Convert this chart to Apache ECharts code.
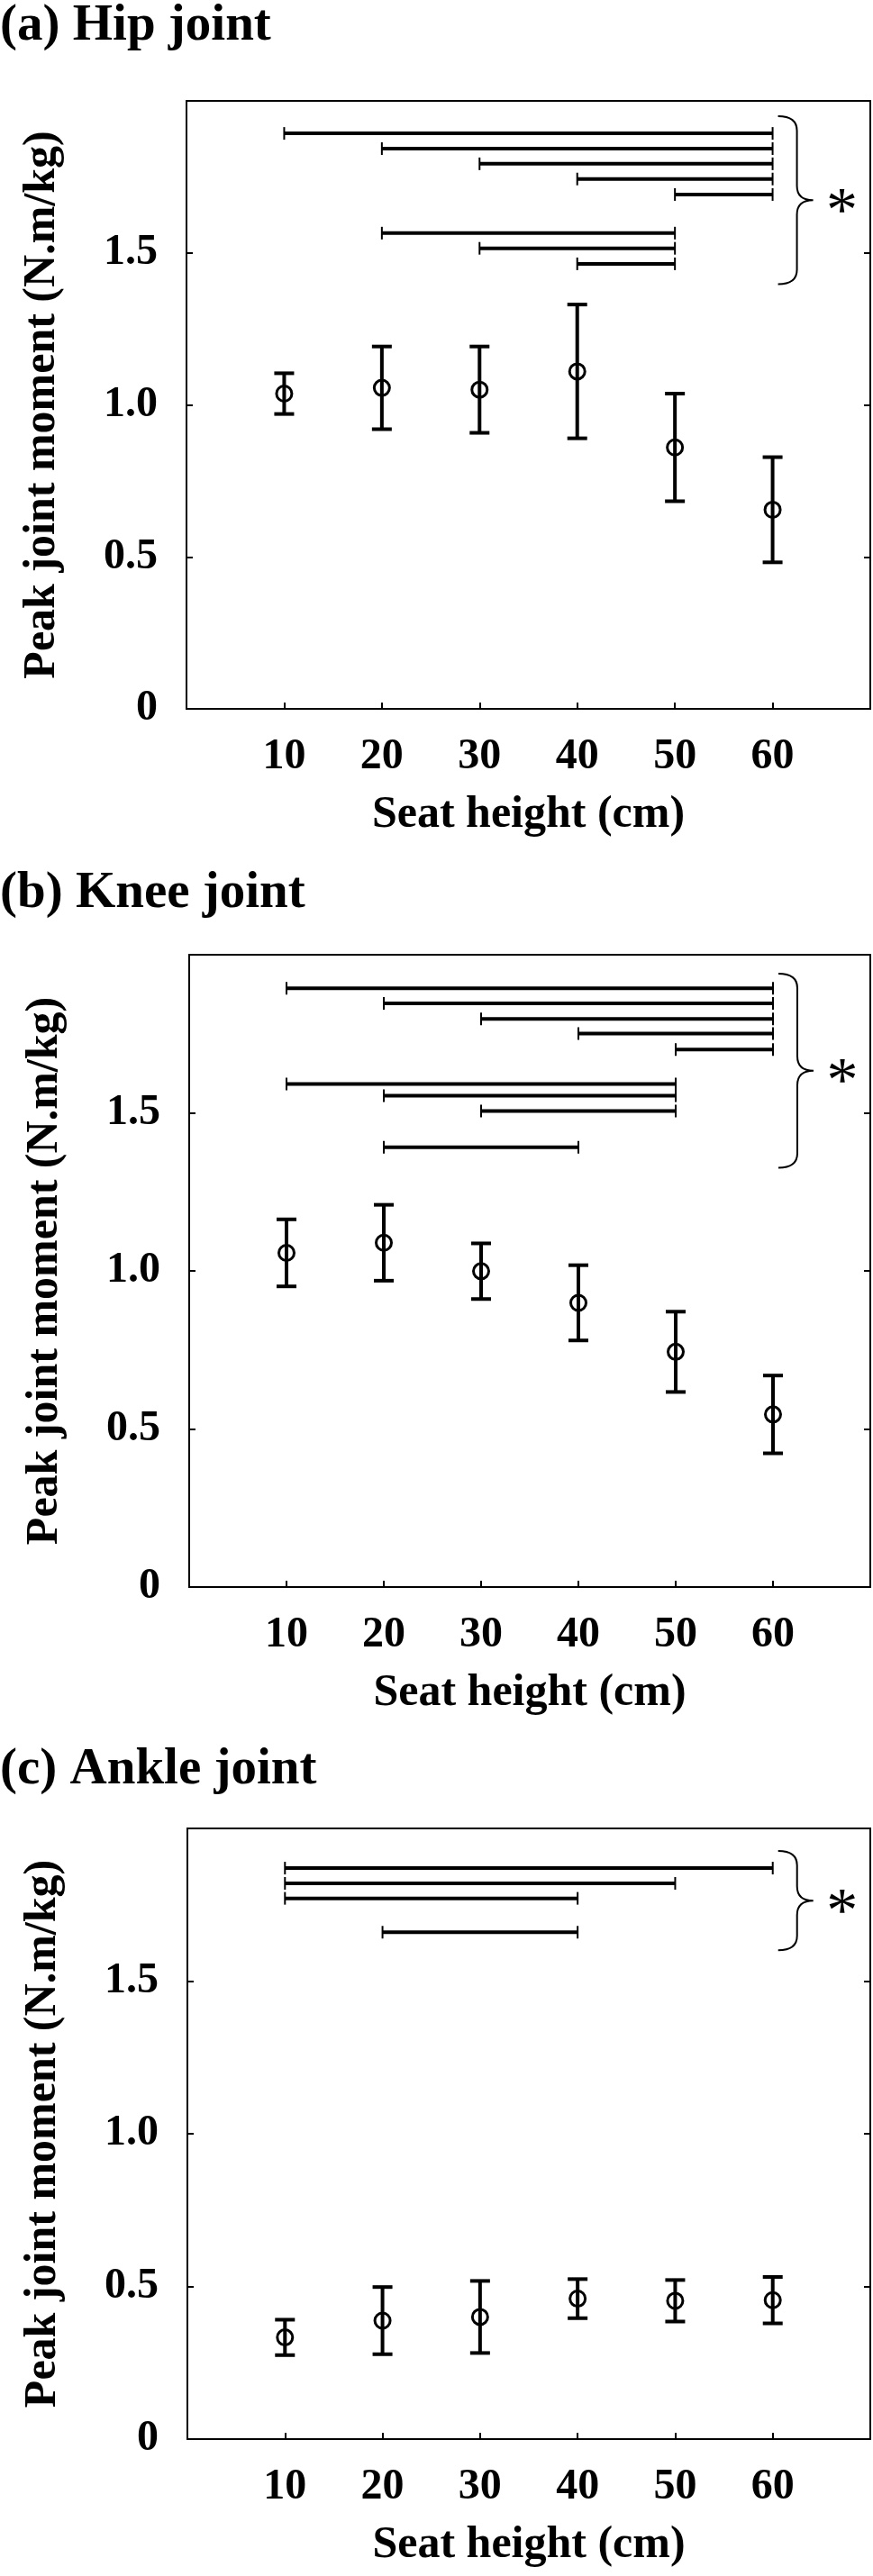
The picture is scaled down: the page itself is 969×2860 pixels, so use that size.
<!DOCTYPE html>
<html>
<head>
<meta charset="utf-8">
<script src="https://cdn.jsdelivr.net/npm/echarts@6/dist/echarts.min.js"></script>
<style>
html,body{margin:0;padding:0;background:#fff;}
#chart{width:969px;height:2860px;}
</style>
</head>
<body>
<div id="chart"></div>
<script>
// ---- data ----
const seatHeights = [10, 20, 30, 40, 50, 60];
const panelTitles = ['(a) Hip joint', '(b) Knee joint', '(c) Ankle joint'];
const yAxisTitle = 'Peak joint moment (N.m/kg)';
const xAxisTitle = 'Seat height (cm)';

const hipMean = [1.037, 1.056, 1.050, 1.110, 0.860, 0.655];
const hipSD   = [0.067, 0.136, 0.142, 0.220, 0.177, 0.173];
const kneeMean = [1.057, 1.089, 0.999, 0.899, 0.744, 0.546];
const kneeSD   = [0.106, 0.120, 0.088, 0.119, 0.127, 0.123];
const ankleMean = [0.333, 0.388, 0.400, 0.460, 0.453, 0.455];
const ankleSD   = [0.058, 0.110, 0.118, 0.064, 0.068, 0.076];

// significance bars: [from seat height, to seat height, level]
const hipSig = [[10,60,1.893],[20,60,1.843],[30,60,1.793],[40,60,1.743],[50,60,1.692],[20,50,1.565],[30,50,1.515],[40,50,1.464]];
const kneeSig = [[10,60,1.894],[20,60,1.846],[30,60,1.797],[40,60,1.751],[50,60,1.700],[10,50,1.591],[20,50,1.554],[30,50,1.506],[20,40,1.391]];
const ankleSig = [[10,60,1.870],[10,50,1.820],[10,40,1.771],[20,40,1.660]];

// brace spans: [top, bottom]
const hipBrace = [1.950, 1.397];
const kneeBrace = [1.940, 1.326];
const ankleBrace = [1.926, 1.601];

const panels = [
  {mean: hipMean, sd: hipSD, sig: hipSig, brace: hipBrace},
  {mean: kneeMean, sd: kneeSD, sig: kneeSig, brace: kneeBrace},
  {mean: ankleMean, sd: ankleSD, sig: ankleSig, brace: ankleBrace}
];

// ---- layout / style ----
const FONT = '"Liberation Serif", "Times New Roman", serif';
const gridBoxes = [
  {left: 207, right: 3, top: 112, height: 675},
  {left: 210, right: 2, top: 1060, height: 702},
  {left: 208, right: 3, top: 2030, height: 678}
];
const titleTops = [1, 964, 1937];

const chart = echarts.init(document.getElementById('chart'), null, {renderer: 'canvas'});

const grids = [], xAxes = [], yAxes = [], series = [], titles = [];

panels.forEach((p, i) => {
  const g = gridBoxes[i];
  grids.push({left: g.left, right: g.right, top: g.top, height: g.height, containLabel: false,
    show: true, borderColor: '#000', borderWidth: 2, backgroundColor: 'transparent'});
  titles.push({text: panelTitles[i], left: 0, top: titleTops[i], padding: 0,
    textStyle: {fontFamily: FONT, fontWeight: 'bold', fontSize: 57, color: '#000'}});
  xAxes.push({
    gridIndex: i, type: 'value', min: 0, max: 70, interval: 10,
    axisLine: {show: false},
    axisTick: {show: true, inside: true, length: 7, lineStyle: {color: '#000', width: 2}},
    splitLine: {show: false},
    axisLabel: {show: true, margin: 30, color: '#000', fontFamily: FONT, fontWeight: 'bold', fontSize: 48,
      formatter: v => (v === 0 || v === 70) ? '' : String(v)},
    name: xAxisTitle, nameLocation: 'middle', nameGap: 93,
    nameTextStyle: {fontFamily: FONT, fontWeight: 'bold', fontSize: 50, color: '#000'}
  });
  yAxes.push({
    gridIndex: i, type: 'value', min: 0, max: 2, interval: 0.5, position: 'left',
    axisLine: {show: false},
    axisTick: {show: true, inside: true, length: 7, lineStyle: {color: '#000', width: 2}},
    splitLine: {show: false},
    axisLabel: {show: true, margin: 32, color: '#000', fontFamily: FONT, fontWeight: 'bold', fontSize: 48,
      padding: [0, 0, 14, 0],
      formatter: v => v === 0 ? '0' : (v === 2 ? '' : v.toFixed(1))},
    name: yAxisTitle, nameLocation: 'middle', nameGap: 135, nameRotate: 90,
    nameTextStyle: {fontFamily: FONT, fontWeight: 'bold', fontSize: 50, color: '#000'}
  });
  yAxes.push({
    gridIndex: i, type: 'value', min: 0, max: 2, interval: 0.5, position: 'right',
    axisLine: {show: false},
    axisTick: {show: true, inside: true, length: 7, lineStyle: {color: '#000', width: 2}},
    splitLine: {show: false},
    axisLabel: {show: false}
  });
  const yi = i * 2;

  // error bars
  series.push({
    type: 'custom', xAxisIndex: i, yAxisIndex: yi, z: 3,
    data: seatHeights.map((x, j) => [x, p.mean[j] - p.sd[j], p.mean[j] + p.sd[j]]),
    renderItem: (params, api) => {
      const lo = api.coord([api.value(0), api.value(1)]);
      const hi = api.coord([api.value(0), api.value(2)]);
      const st = {stroke: '#000', lineWidth: 4, fill: null};
      const cw = 11;
      return {type: 'group', children: [
        {type: 'line', shape: {x1: lo[0], y1: lo[1], x2: hi[0], y2: hi[1]}, style: st},
        {type: 'line', shape: {x1: hi[0] - cw, y1: hi[1], x2: hi[0] + cw, y2: hi[1]}, style: st},
        {type: 'line', shape: {x1: lo[0] - cw, y1: lo[1], x2: lo[0] + cw, y2: lo[1]}, style: st}
      ]};
    }
  });
  // means
  series.push({
    type: 'scatter', xAxisIndex: i, yAxisIndex: yi, z: 4,
    symbol: 'circle', symbolSize: 17,
    itemStyle: {color: 'rgba(0,0,0,0)', borderColor: '#000', borderWidth: 3, opacity: 1},
    data: seatHeights.map((x, j) => [x, p.mean[j]])
  });
  // significance bars
  series.push({
    type: 'custom', xAxisIndex: i, yAxisIndex: yi, z: 3,
    data: p.sig,
    renderItem: (params, api) => {
      const a = api.coord([api.value(0), api.value(2)]);
      const b = api.coord([api.value(1), api.value(2)]);
      const main = {stroke: '#000', lineWidth: 4, fill: null};
      const cap = {stroke: '#000', lineWidth: 2, fill: null};
      const ch = 7;
      return {type: 'group', children: [
        {type: 'line', shape: {x1: a[0], y1: a[1], x2: b[0], y2: b[1]}, style: main},
        {type: 'line', shape: {x1: a[0], y1: a[1] - ch, x2: a[0], y2: a[1] + ch}, style: cap},
        {type: 'line', shape: {x1: b[0], y1: b[1] - ch, x2: b[0], y2: b[1] + ch}, style: cap}
      ]};
    }
  });
  // brace + asterisk
  series.push({
    type: 'custom', xAxisIndex: i, yAxisIndex: yi, z: 3,
    data: [[60, p.brace[0], p.brace[1]]],
    renderItem: (params, api) => {
      const t = api.coord([api.value(0), api.value(1)]);
      const b = api.coord([api.value(0), api.value(2)]);
      const ex = t[0] + 6, sx = t[0] + 27, tx = t[0] + 45;
      const yT = t[1], yB = b[1], yM = (yT + yB) / 2, r = 16;
      const path = `M${ex},${yT} Q${sx},${yT} ${sx},${yT + r} L${sx},${yM - r} Q${sx},${yM} ${tx},${yM} ` +
                   `Q${sx},${yM} ${sx},${yM + r} L${sx},${yB - r} Q${sx},${yB} ${ex},${yB}`;
      return {type: 'group', children: [
        {type: 'path', shape: {pathData: path}, style: {stroke: '#000', lineWidth: 2, fill: null}},
        {type: 'text', x: t[0] + 77, y: yM + 15,
          style: {text: '*', fill: '#000', font: '70px ' + FONT, align: 'center', verticalAlign: 'middle'}}
      ]};
    }
  });
});

chart.setOption({
  animation: false,
  backgroundColor: '#fff',
  title: titles,
  grid: grids,
  xAxis: xAxes,
  yAxis: yAxes,
  series: series
});
</script>
</body>
</html>
